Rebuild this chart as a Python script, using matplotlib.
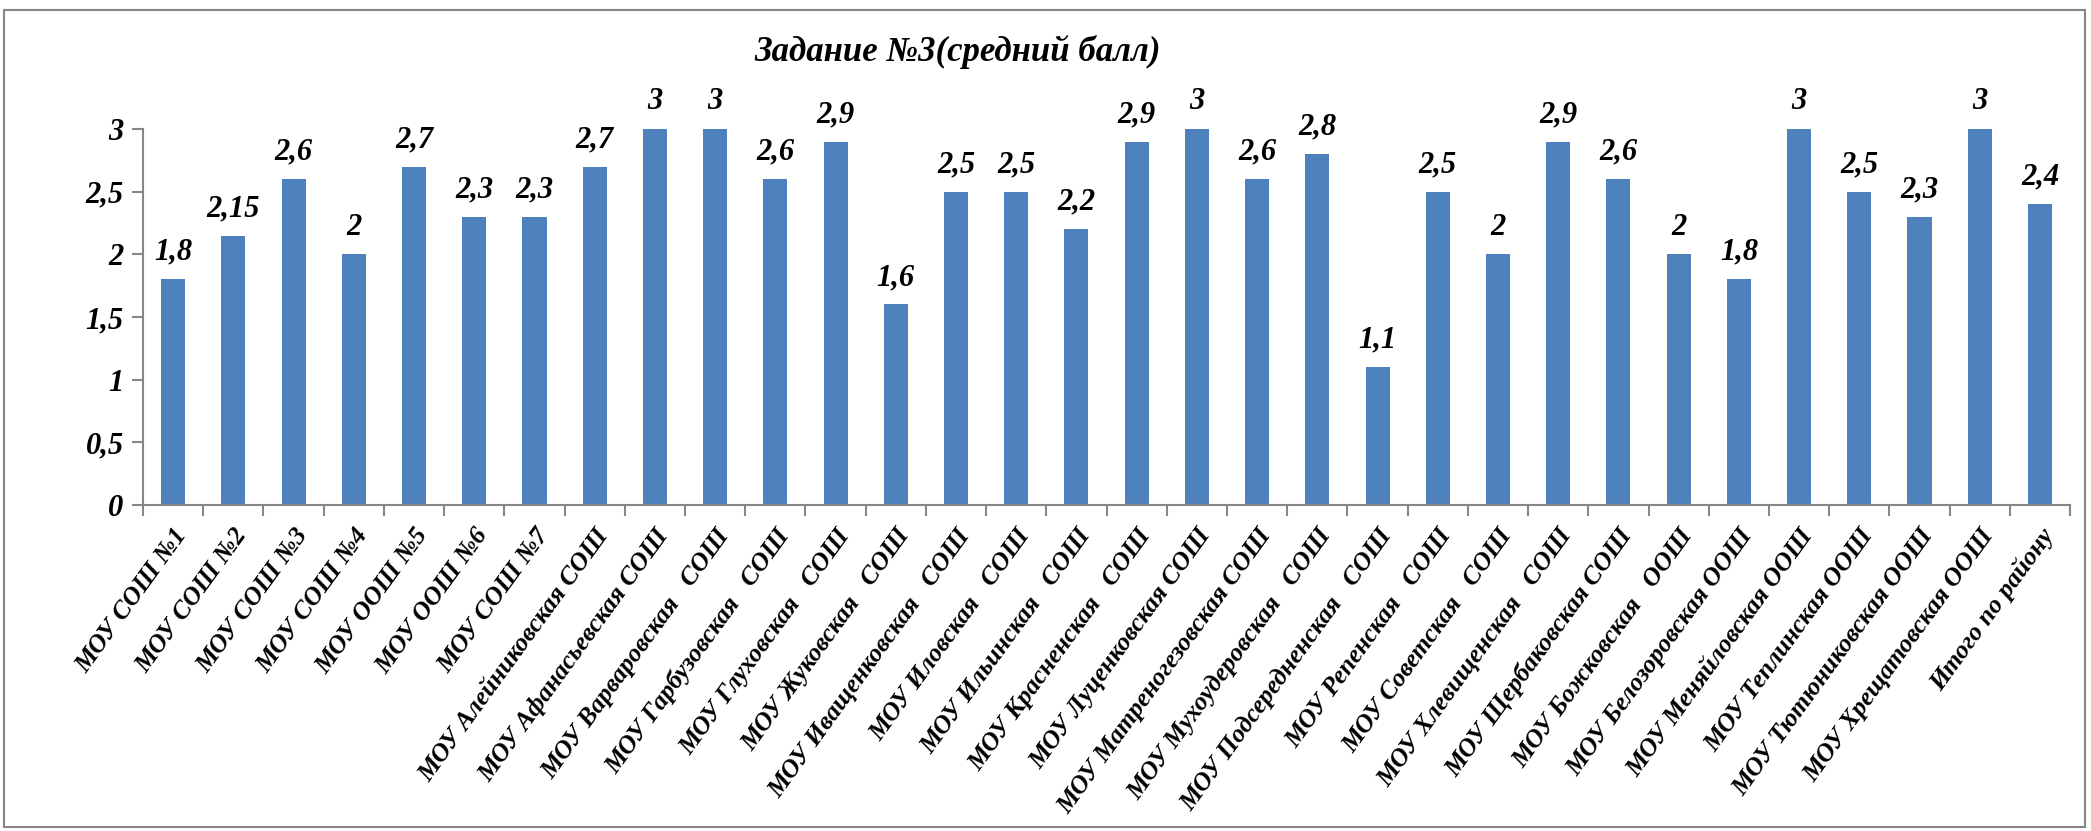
import matplotlib.pyplot as plt
import matplotlib.patches as patches
import numpy as np

plt.rcParams['font.family'] = ['Liberation Serif', 'DejaVu Serif']
plt.rcParams['font.weight'] = 'bold'
plt.rcParams['font.style'] = 'italic'

schools = ['МОУ СОШ №1', 'МОУ СОШ №2', 'МОУ СОШ №3', 'МОУ СОШ №4',
           'МОУ ООШ №5', 'МОУ ООШ №6', 'МОУ СОШ №7',
           'МОУ Алейниковская СОШ', 'МОУ Афанасьевская СОШ',
           'МОУ Варваровская   СОШ', 'МОУ Гарбузовская   СОШ',
           'МОУ Глуховская   СОШ', 'МОУ Жуковская   СОШ',
           'МОУ Иващенковская   СОШ', 'МОУ Иловская   СОШ',
           'МОУ Ильинская   СОШ', 'МОУ Красненская   СОШ',
           'МОУ Луценковская СОШ', 'МОУ Матреногезовская СОШ',
           'МОУ Мухоудеровская   СОШ', 'МОУ Подсередненская   СОШ',
           'МОУ Репенская   СОШ', 'МОУ Советская   СОШ',
           'МОУ Хлевищенская   СОШ', 'МОУ Щербаковская СОШ',
           'МОУ Божковская   ООШ', 'МОУ Белозоровская ООШ',
           'МОУ Меняйловская ООШ', 'МОУ Теплинская ООШ',
           'МОУ Тютюниковская ООШ', 'МОУ Хрещатовская ООШ',
           'Итого по району']
scores = [1.8, 2.15, 2.6, 2, 2.7, 2.3, 2.3, 2.7, 3, 3, 2.6, 2.9, 1.6, 2.5,
          2.5, 2.2, 2.9, 3, 2.6, 2.8, 1.1, 2.5, 2, 2.9, 2.6, 2, 1.8, 3,
          2.5, 2.3, 3, 2.4]
yticks = [0, 0.5, 1, 1.5, 2, 2.5, 3]

def fmt(v):
    return ('%g' % v).replace('.', ',')

fig = plt.figure(figsize=(20.91, 8.31), dpi=100)
ax = fig.add_axes([0.0684, 0.3923, 0.9216, 0.4525])

x = np.arange(len(scores))
ax.bar(x, scores, width=0.4, color='#4F81BD')

for xi, v in zip(x, scores):
    ax.annotate(fmt(v), (xi, v), xytext=(0, 9), textcoords='offset points',
                ha='center', va='bottom', fontsize=22,
                fontweight='bold', fontstyle='italic')

ax.set_xlim(-0.5, len(scores) - 0.5)
ax.set_ylim(0, 3)
ax.set_yticks(yticks)
ax.set_yticklabels([fmt(v) for v in yticks], fontsize=22)

ax.set_xticks(x)
ax.set_xticklabels(schools, rotation=54, ha='right', rotation_mode='anchor',
                   fontsize=18.5)
ax.set_xticks(np.arange(-0.5, len(scores)), minor=True)
ax.tick_params(axis='x', which='major', length=0, pad=14)
ax.tick_params(axis='x', which='minor', length=8, color='#868686', width=1.5)
ax.tick_params(axis='y', length=8, color='#868686', width=1.5, pad=6)

for s in ['top', 'right']:
    ax.spines[s].set_visible(False)
for s in ['left', 'bottom']:
    ax.spines[s].set_color('#868686')
    ax.spines[s].set_linewidth(1.5)

fig.text(0.458, 0.938, 'Задание №3(средний балл)', ha='center', va='center',
         fontsize=25, fontweight='bold', fontstyle='italic')

fig.patches.append(patches.Rectangle((0.002, 0.005), 0.995, 0.983,
                                     transform=fig.transFigure, fill=False,
                                     edgecolor='#868686', linewidth=1.5))

plt.savefig('out.png', dpi=100)
